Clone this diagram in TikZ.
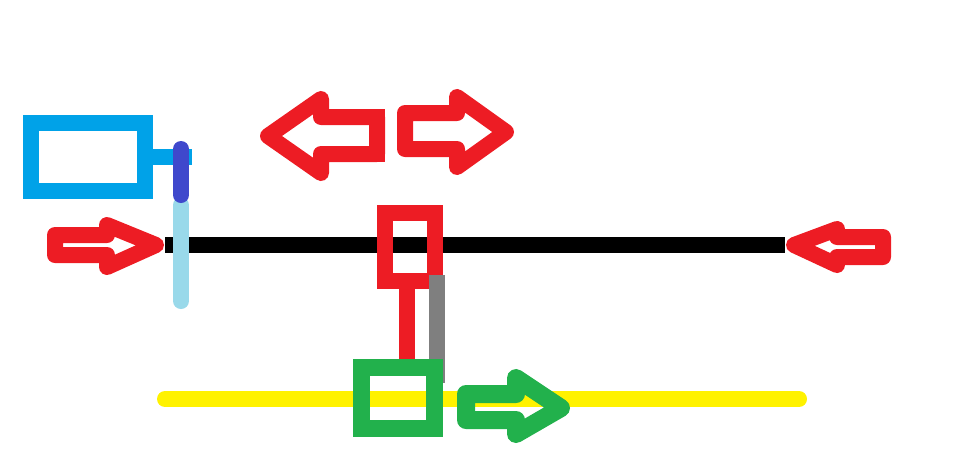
\documentclass[tikz,border=0pt]{standalone}
\definecolor{paintred}{HTML}{ED1C24}
\definecolor{paintgreen}{HTML}{22B14C}
\definecolor{paintcyan}{HTML}{00A2E8}
\definecolor{paintblue}{HTML}{3F48CC}
\definecolor{paintsky}{HTML}{99D9EA}
\definecolor{paintgray}{HTML}{7F7F7F}
\definecolor{paintyellow}{HTML}{FFF200}
\tikzset{
    boxshape/.style={draw, line width=16pt, inner sep=0pt, outer sep=0pt},
    rodline/.style={line width=16pt},
    barline/.style={line width=16pt, line cap=round},
    arrowline/.style={line width=16pt, line join=round}
}
\begin{document}
\begin{tikzpicture}[x=1pt, y=-1pt]
    \useasboundingbox (0,0) rectangle (966,472);

    % rails
    \coordinate (railleft) at (165,245);
    \coordinate (railright) at (785,245);
    \coordinate (trackleft) at (165,399);
    \coordinate (trackright) at (799,399);
    \draw[rodline, black] (railleft) -- (railright);
    \draw[barline, paintyellow] (trackleft) -- (trackright);

    % boxes
    \node[boxshape, paintcyan, minimum width=114pt, minimum height=68pt] (motorbox) at (88,157) {};
    \node[boxshape, paintred, minimum width=50pt, minimum height=68pt] (carriage) at (410,247) {};

    % side bar
    \coordinate (shaftend) at (192,157);
    \coordinate (skytop) at (181,205);
    \coordinate (skyend) at (181,301);
    \coordinate (bluetop) at (181,149);
    \coordinate (blueend) at (181,195);
    \draw[rodline, paintcyan] (motorbox.east) -- (shaftend);
    \draw[barline, paintsky] (skytop) -- (skyend);
    \draw[barline, paintblue] (bluetop) -- (blueend);

    % rods down to the sled
    \coordinate (redrod) at (407,300);
    \coordinate (redrodend) at (407,368);
    \coordinate (grayrodtop) at (437,275);
    \coordinate (grayrodend) at (437,383);
    \draw[rodline, paintred] (carriage.south -| redrod) -- (redrodend);
    \draw[rodline, paintgray] (grayrodtop) -- (grayrodend);
    \node[boxshape, line width=17pt, paintgreen, minimum width=73pt, minimum height=61pt] (sled) at (398,398) {};

    % arrows
    \draw[arrowline, paintred] (268,136) -- (321,99) -- (321,117) -- (377,117) -- (377,154) -- (321,154) -- (321,173) -- cycle;
    \draw[rodline, paintred, line join=miter] (321,117) -- (377,117) -- (377,154) -- (321,154);
    \draw[arrowline, paintred] (506,132) -- (457,97) -- (457,113) -- (405,113) -- (405,149) -- (457,149) -- (457,167) -- cycle;
    \draw[arrowline, paintred] (156,245) -- (107,225) -- (107,235) -- (55,235) -- (55,255) -- (107,255) -- (107,267) -- cycle;
    \draw[arrowline, paintred] (794,245) -- (837,229) -- (837,237) -- (883,237) -- (883,257) -- (837,257) -- (837,265) -- cycle;
    \draw[arrowline, line width=18pt, paintgreen] (561,408) -- (516,378) -- (516,394) -- (466,394) -- (466,420) -- (516,420) -- (516,434) -- cycle;
\end{tikzpicture}
\end{document}
